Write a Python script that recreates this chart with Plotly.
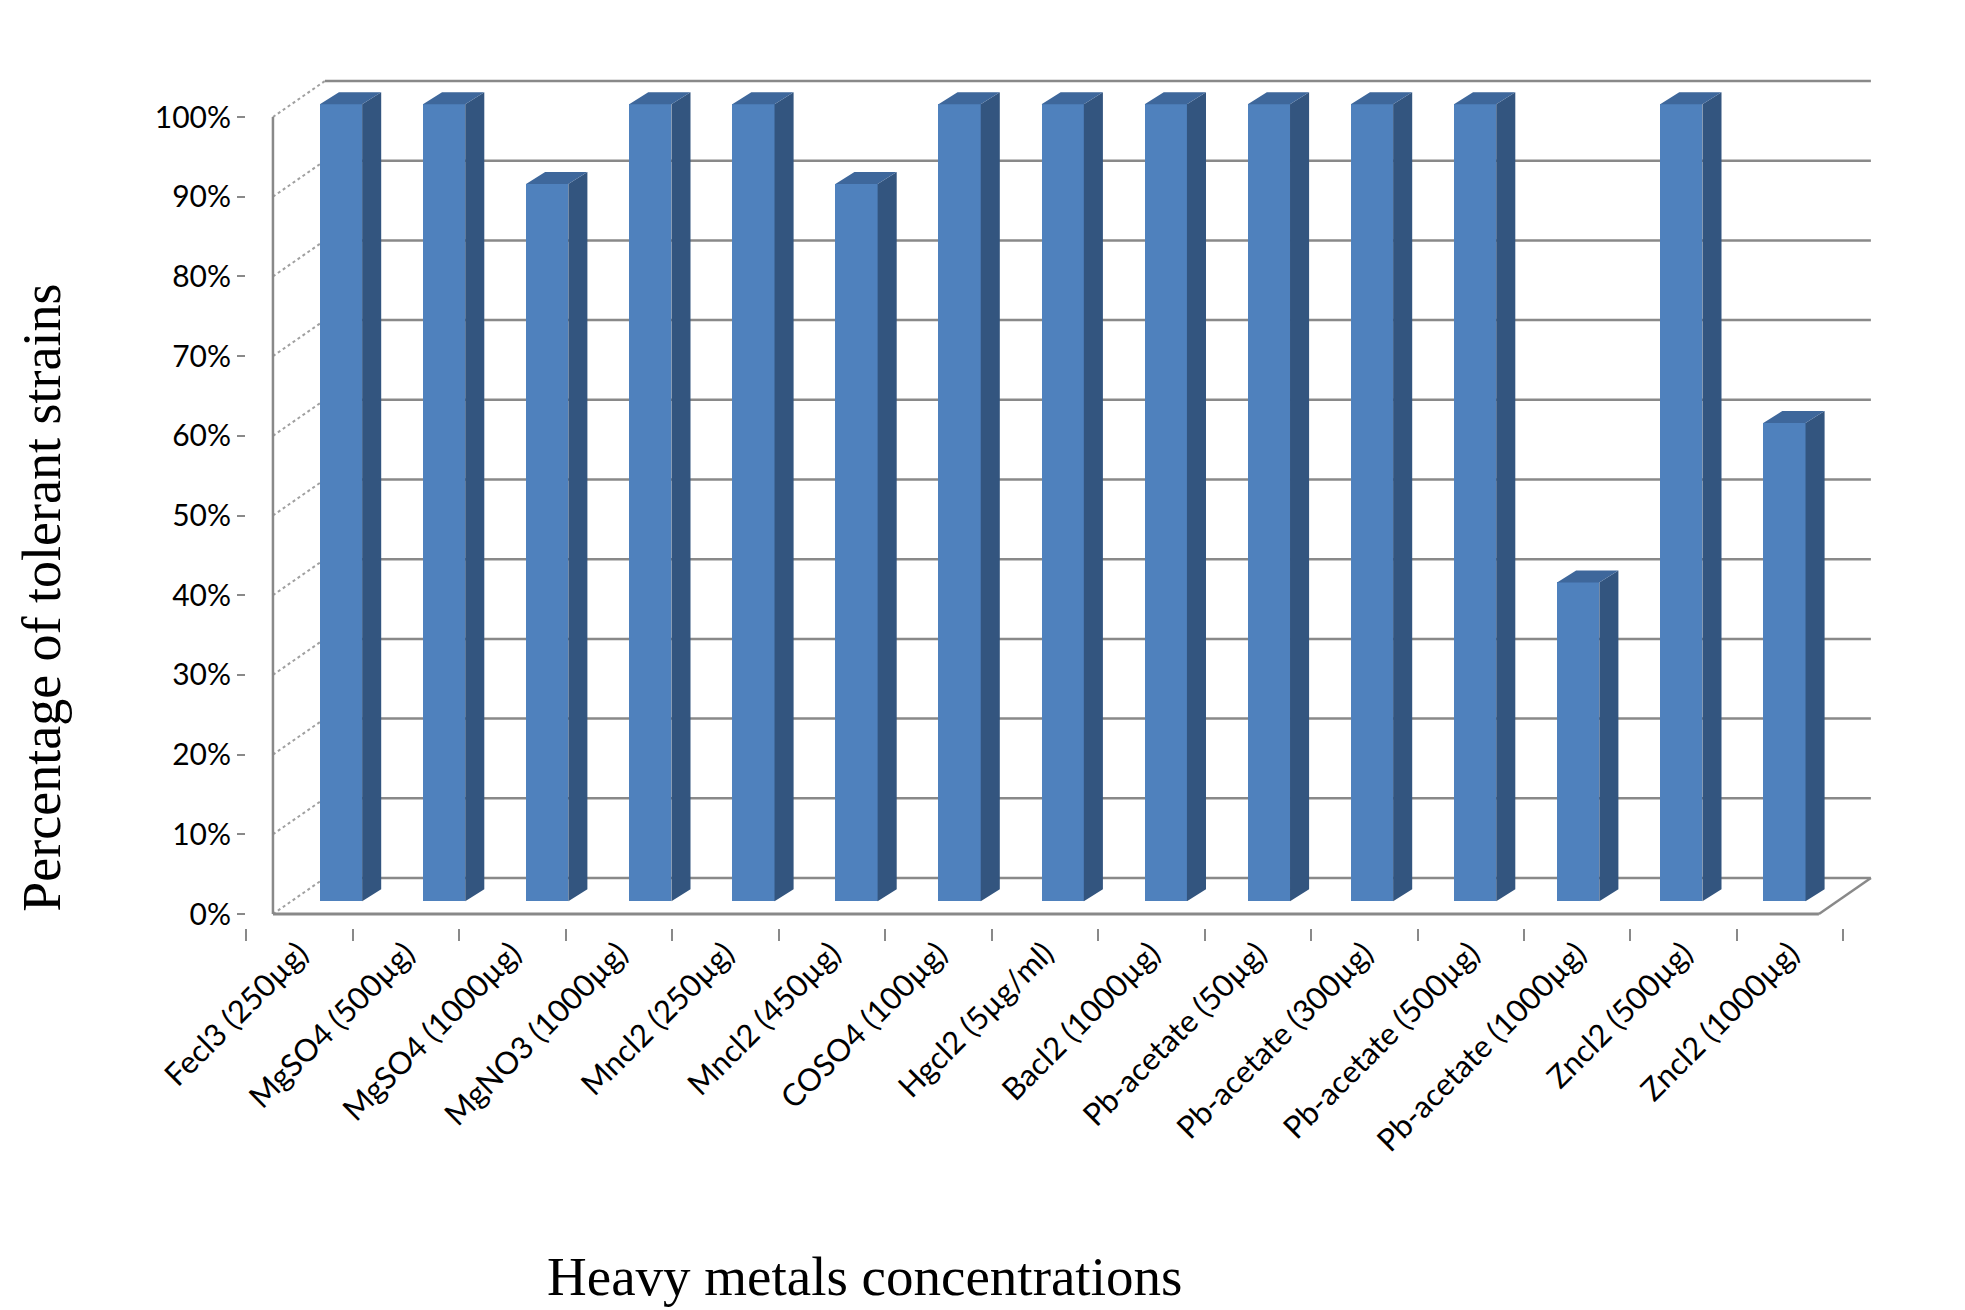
import plotly.graph_objects as go

# Heavy metal tolerance of the isolated strains
categories = [
    "Fecl3 (250µg)",
    "MgSO4 (500µg)",
    "MgSO4 (1000µg)",
    "MgNO3 (1000µg)",
    "Mncl2 (250µg)",
    "Mncl2 (450µg)",
    "COSO4 (100µg)",
    "Hgcl2 (5µg/ml)",
    "Bacl2 (1000µg)",
    "Pb-acetate (50µg)",
    "Pb-acetate (300µg)",
    "Pb-acetate (500µg)",
    "Pb-acetate (1000µg)",
    "Zncl2 (500µg)",
    "Zncl2 (1000µg)",
]
tolerant = [100, 100, 90, 100, 100, 90, 100, 100, 100, 100, 100, 100, 40, 100, 60]
y_ticks = [0, 10, 20, 30, 40, 50, 60, 70, 80, 90, 100]
y_tick_labels = ["0%", "10%", "20%", "30%", "40%", "50%", "60%", "70%", "80%", "90%", "100%"]

# fake 3d look (excel style): sizes in "bar" axis units / percent
BAR_W = 0.41
BAR_DX, BAR_DY = 0.185, 1.5
BAR_BASE = 1.6
WALL_X0, WALL_X1 = -0.66, 14.335
WALL_DX, WALL_DY = 0.504, 4.52

FRONT = "#4F81BD"
SIDE = "#33557F"
TOP = "#3E679B"
GRID = "#898989"

pos = list(range(len(categories)))

# walls drawn as shapes below the bars
shapes = []
for v in y_ticks:
    # back wall gridline
    shapes.append(dict(type="line", xref="x2", yref="y", layer="below",
                       x0=WALL_X0 + WALL_DX, x1=WALL_X1 + WALL_DX,
                       y0=v + WALL_DY, y1=v + WALL_DY,
                       line=dict(color=GRID, width=2.5)))
    # left wall diagonal
    shapes.append(dict(type="line", xref="x2", yref="y", layer="below",
                       x0=WALL_X0, x1=WALL_X0 + WALL_DX, y0=v, y1=v + WALL_DY,
                       line=dict(color="#A0A0A0", width=2, dash="dot")))
# wall front edge, floor front edge, floor right edge
shapes.append(dict(type="line", xref="x2", yref="y", layer="below",
                   x0=WALL_X0, x1=WALL_X0, y0=0, y1=y_ticks[-1],
                   line=dict(color=GRID, width=2.5)))
shapes.append(dict(type="line", xref="x2", yref="y", layer="below",
                   x0=WALL_X0, x1=WALL_X1, y0=0, y1=0,
                   line=dict(color=GRID, width=3)))
shapes.append(dict(type="line", xref="x2", yref="y", layer="below",
                   x0=WALL_X1, x1=WALL_X1 + WALL_DX, y0=0, y1=WALL_DY,
                   line=dict(color=GRID, width=2.5)))

# side and top faces of the bars
sx, sy, tx, ty = [], [], [], []
for p, v in zip(pos, tolerant):
    l = p - BAR_W / 2
    r = p + BAR_W / 2
    b = BAR_BASE
    t = v + BAR_BASE
    sx += [r, r + BAR_DX, r + BAR_DX, r, r, None]
    sy += [b, b + BAR_DY, t + BAR_DY, t, b, None]
    tx += [l, r, r + BAR_DX, l + BAR_DX, l, None]
    ty += [t, t, t + BAR_DY, t + BAR_DY, t, None]

fig = go.Figure()
# invisible trace so the category axis exists
fig.add_trace(
    go.Scatter(x=categories, y=tolerant, mode="markers", marker=dict(opacity=0),
               hoverinfo="skip", showlegend=False)
)
fig.add_trace(
    go.Bar(x=pos, y=tolerant, base=BAR_BASE, width=BAR_W, marker=dict(color=FRONT, line=dict(width=0)),
           xaxis="x2", showlegend=False, hovertext=categories, hoverinfo="text+y")
)
fig.add_trace(
    go.Scatter(x=sx, y=sy, mode="lines", fill="toself", fillcolor=SIDE, line=dict(width=0, color=SIDE),
               xaxis="x2", hoverinfo="skip", showlegend=False)
)
fig.add_trace(
    go.Scatter(x=tx, y=ty, mode="lines", fill="toself", fillcolor=TOP, line=dict(width=0, color=TOP),
               xaxis="x2", hoverinfo="skip", showlegend=False)
)

fig.update_layout(
    width=1965,
    height=1310,
    plot_bgcolor="white",
    paper_bgcolor="white",
    margin=dict(l=238, r=95, t=60, b=390),
    font=dict(family="Lato", size=30, color="black"),
    bargap=0,
    shapes=shapes,
    xaxis=dict(
        type="category",
        categoryorder="array",
        categoryarray=categories,
        range=[-0.5, 14.824],
        tickson="boundaries",
        ticks="outside",
        ticklen=12,
        tickwidth=2,
        tickcolor=GRID,
        tickangle=-45,
        tickfont=dict(size=31),
        showgrid=False,
        showline=False,
        zeroline=False,
    ),
    xaxis2=dict(
        overlaying="x",
        anchor="y",
        range=[-0.9214, 14.908],
        visible=False,
    ),
    yaxis=dict(
        range=[-1.757, 106.15],
        tickmode="array",
        tickvals=y_ticks,
        ticktext=y_tick_labels,
        ticks="outside",
        ticklen=8,
        tickwidth=2,
        tickcolor=GRID,
        showgrid=False,
        showline=False,
        zeroline=False,
    ),
    annotations=[
        dict(
            text="Percentage of tolerant strains",
            xref="paper", yref="paper", x=-0.125, y=0.384,
            xanchor="center", yanchor="middle", textangle=-90, showarrow=False,
            font=dict(family="Liberation Serif", size=54),
        ),
        dict(
            text="Heavy metals concentrations",
            xref="paper", yref="paper", x=0.379, y=-0.405,
            xanchor="center", yanchor="middle", showarrow=False,
            font=dict(family="Liberation Serif", size=55),
        ),
    ],
)

fig.write_html("out.html")
